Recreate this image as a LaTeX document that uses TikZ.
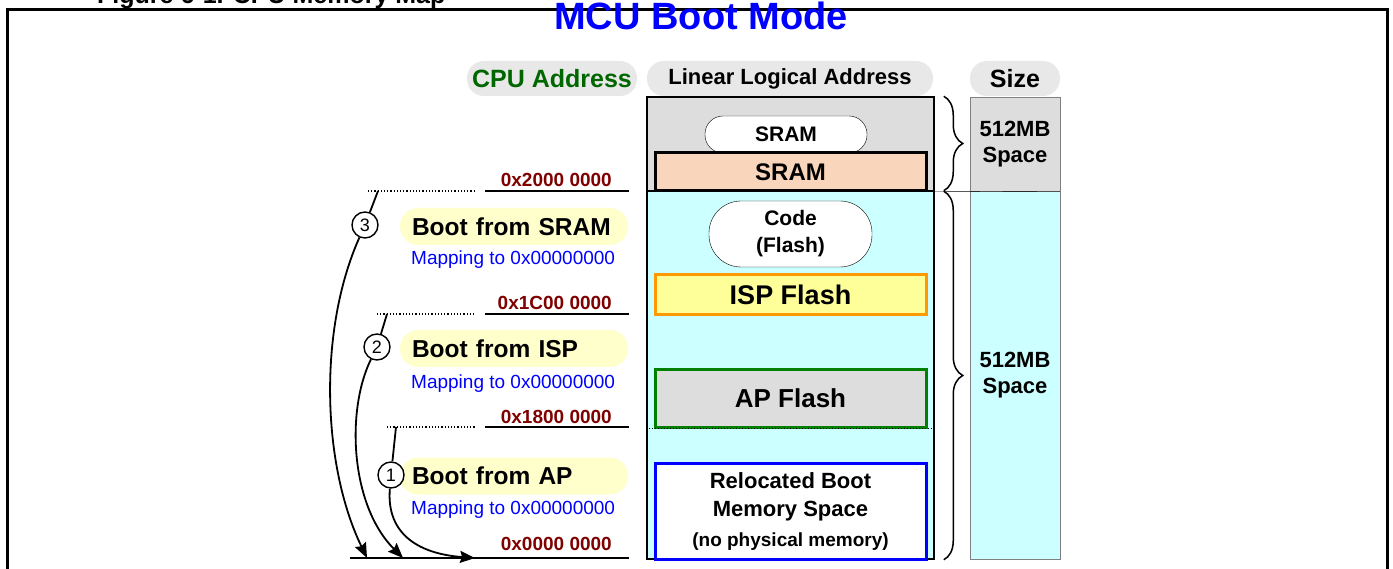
\documentclass[tikz,border=0pt]{standalone}
\usepackage{fontspec}
\setmainfont{Liberation Sans}
\usetikzlibrary{arrows.meta,decorations.pathreplacing}
\definecolor{pillgray}{HTML}{E8E8E8}
\definecolor{memgray}{HTML}{DDDDDD}
\definecolor{memcyan}{HTML}{CCFFFF}
\definecolor{sramsalmon}{HTML}{F9D6BB}
\definecolor{ispyellow}{HTML}{FFFF99}
\definecolor{isporange}{HTML}{FF9900}
\definecolor{apgreen}{HTML}{008000}
\definecolor{bootyellow}{HTML}{FFFFCC}
\definecolor{addrred}{HTML}{800000}
\definecolor{cpugreen}{HTML}{006600}
\newcommand{\fsz}[1]{\fontsize{#1}{#1}\selectfont}

\tikzset{
  hdrpill/.style={fill=pillgray, rounded corners=17pt, minimum height=35pt, inner sep=0pt, font=\bfseries\fsz{22}},
  region/.style={draw, line width=3pt, minimum width=271pt, inner sep=0pt, font=\bfseries\fsz{26}},
  sizecol/.style={draw=gray, minimum width=90pt, inner sep=0pt, align=center, font=\bfseries\fontsize{22}{26}\selectfont},
  bootpill/.style={fill=bootyellow, rounded corners=18pt, minimum height=37pt, text width=204pt, inner xsep=12pt, inner ysep=0pt, align=left, font=\bfseries\fsz{24.5}},
  mapping/.style={anchor=west, text=blue, inner sep=0pt, font=\fsz{19}},
  addr/.style={anchor=base east, text=addrred, inner sep=0pt, font=\bfseries\fsz{19}},
  addrdots/.style={dotted, line width=1.2pt},
  addrline/.style={line width=1.6pt},
  numcircle/.style={circle, draw, fill=white, line width=1.4pt, minimum size=26pt, inner sep=0pt, font=\fsz{18}},
  bootarrow/.style={line width=1.8pt, -{Stealth[length=15pt, width=12pt, inset=2pt]}},
  bracket/.style={decorate, decoration={brace, amplitude=19pt}, line width=1.5pt}
}

\begin{document}
\begin{tikzpicture}[x=1pt, y=-1pt]
  \clip (0,0) rectangle (1393,569);
  \fill[white] (0,0) rectangle (1393,569);

  % caption and frame
  \node[anchor=base west, inner sep=0pt, font=\bfseries\fsz{25}] (caption) at (97,4) {Figure 6-1. CPU Memory Map};
  \draw[line width=3pt] (7.5,9.5) rectangle (1387,620);
  \node[anchor=base, inner sep=0pt, text=blue, font=\bfseries\fsz{38}] (title) at (701,30) {MCU Boot Mode};

  % column headers
  \node[hdrpill, minimum width=170pt, text=cpugreen, font=\bfseries\fsz{25}] (cpuhdr) at (552,78.5) {CPU Address};
  \node[hdrpill, minimum width=286pt] (linhdr) at (790,78.5) {Linear Logical Address};
  \node[hdrpill, minimum width=90pt, font=\bfseries\fsz{25}] (sizehdr) at (1015,78.5) {Size};

  % memory column
  \node[draw, fill=memgray, line width=1.5pt, minimum width=287pt, minimum height=94pt, inner sep=0pt] (upper) at (790.5,144) {};
  \node[draw, fill=memcyan, line width=1.5pt, minimum width=287pt, minimum height=368pt, inner sep=0pt] (lower) at (790.5,375) {};
  \node[draw, fill=white, rounded corners=18pt, minimum width=162pt, minimum height=37pt, font=\bfseries\fsz{21}] (srampill) at (786,134.5) {SRAM};
  \node[region, fill=sramsalmon, minimum height=38pt, font=\bfseries\fsz{24}] (sram) at (790.5,172) {SRAM};
  \node[draw, fill=white, rounded corners=32pt, minimum width=163pt, minimum height=66pt, align=center, font=\bfseries\fontsize{21}{27}\selectfont] (code) at (790.5,234) {Code\\(Flash)};
  \node[region, draw=isporange, fill=ispyellow, minimum height=40pt, font=\bfseries\fsz{27}] (isp) at (790.5,295) {ISP Flash};
  \node[region, draw=apgreen, fill=memgray, minimum height=57pt] (ap) at (790.5,398.5) {AP Flash};
  \draw[dotted, line width=1pt] (lower.west |- ap.south) -- (lower.east |- ap.south);
  \node[region, draw=blue, fill=white, minimum height=96pt, align=center, font=\bfseries\fontsize{22}{28}\selectfont] (reloc) at (790.5,511)
    {Relocated Boot\\Memory Space\\[2pt]{\fontsize{19}{22}\selectfont (no physical memory)}};

  % braces and size column
  \draw[bracket] ([xshift=9pt]upper.north east) -- ([xshift=9pt, yshift=1pt]upper.south east);
  \draw[bracket] ([xshift=9pt, yshift=-1pt]lower.north east) -- ([xshift=9pt]lower.south east);
  \node[sizecol, fill=memgray, minimum height=94pt] (sizeup) at (1015,144) {512MB\\Space};
  \node[sizecol, fill=memcyan, minimum height=368pt] (sizelow) at (1015,375) {512MB\\Space};
  \draw (upper.south east) -- (sizeup.south east);

  % CPU addresses
  \draw[addrdots] (368,191) -- (475,191);
  \draw[addrline] (485,191) -- (629,191);
  \node[addr] (a2000) at (612,187) {0x2000 0000};
  \draw[addrdots] (377,314) -- (475,314);
  \draw[addrline] (485,314) -- (629,314);
  \node[addr] (a1c00) at (612,310) {0x1C00 0000};
  \draw[addrdots] (387,427) -- (475,427);
  \draw[addrline] (485,427) -- (629,427);
  \node[addr] (a1800) at (612,423) {0x1800 0000};
  \draw[addrline] (350,558) -- (629,558);
  \node[addr] (a0000) at (612,550) {0x0000 0000};

  % boot modes
  \node[bootpill] (bootsram) at (514,226.5) {Boot from SRAM};
  \node[mapping] (mapsram) at (411,260) {Mapping to 0x00000000};
  \node[bootpill] (bootisp) at (514,348.5) {Boot from ISP};
  \node[mapping] (mapisp) at (411,384) {Mapping to 0x00000000};
  \node[bootpill] (bootap) at (514,476) {Boot from AP};
  \node[mapping] (mapap) at (411,510) {Mapping to 0x00000000};

  % remapping arrows
  \coordinate (top3) at (378,191);
  \coordinate (top2) at (387,314);
  \coordinate (top1) at (396,427);
  \coordinate (end3) at (367,558);
  \coordinate (end2) at (403,558);
  \coordinate (end1) at (475,558);
  \node[numcircle] (n3) at (365,225) {3};
  \node[numcircle] (n2) at (377,347) {2};
  \node[numcircle] (n1) at (391,475) {1};
  \draw[line width=1.8pt] (top3) -- (n3);
  \draw[line width=1.8pt] (top2) -- (n2);
  \draw[line width=1.8pt] (top1) -- (n1);
  \draw[bootarrow] (n3) .. controls (318,330) and (322,465) .. (end3);
  \draw[bootarrow] (n2) .. controls (346,410) and (350,505) .. (end2);
  \draw[bootarrow] (n1) .. controls (386,535) and (420,554) .. (end1);
\end{tikzpicture}
\end{document}
